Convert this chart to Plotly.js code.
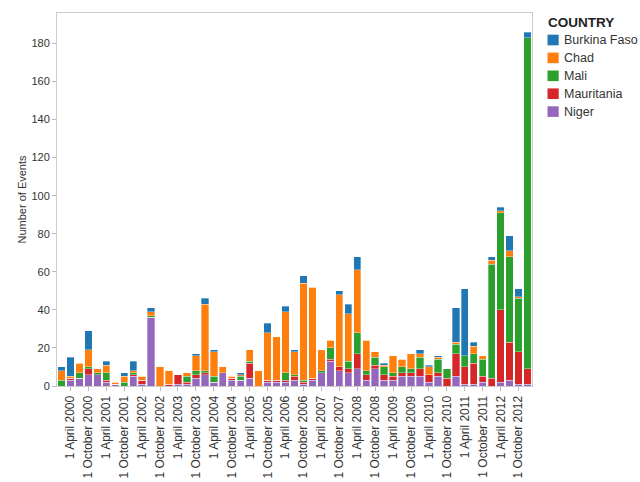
<!DOCTYPE html>
<html>
<head>
<meta charset="utf-8">
<script src="https://cdn.plot.ly/plotly-3.0.1.min.js"></script>
<style>
	html, body { margin: 0; padding: 0; background: #fff; }
</style>
</head>
<body>
<div id="plot"></div>
<script>
const MONTHS = ["January", "April", "July", "October"];

// one bar per quarter, January 2000 to January 2013
const quarters = [];
for (let year = 2000; year <= 2013; ++year) {
	MONTHS.forEach(m => {
		if (year < 2013 || m === "January") {
			quarters.push(`1 ${m} ${year}`);
		}
	});
}

// labels shown on the axis (April and October only)
const tickLabels = quarters.filter(q => /April|October/.test(q));

const niger = [
	0, 3, 4, 6, 6, 2, 1, 0, 5, 1, 36, 0, 0, 1, 1, 4, 6, 2, 7, 3, 3, 4, 0, 2, 2, 2,
	3, 1, 3, 7, 13, 8, 7, 9, 3, 9, 3, 3, 5, 5, 5, 2, 5, 0, 5, 1, 1, 2, 0, 2, 3, 1, 1,
];
const mauritania = [
	0, 1, 0, 3, 0, 1, 0, 0, 1, 2, 0, 0, 1, 5, 1, 2, 1, 0, 0, 1, 0, 8, 0, 1, 1, 1,
	2, 1, 1, 0, 1, 2, 2, 8, 3, 2, 3, 2, 2, 2, 4, 4, 2, 4, 12, 9, 11, 3, 4, 38, 20, 17, 8,
];
const mali = [
	3, 0, 3, 1, 1, 4, 0, 2, 1, 0, 1, 0, 0, 0, 3, 2, 1, 3, 0, 0, 2, 1, 0, 0, 0, 4,
	1, 1, 0, 1, 6, 0, 4, 11, 2, 4, 4, 2, 3, 2, 6, 0, 7, 5, 5, 6, 5, 9, 60, 51, 45, 28, 174,
];
const chad = [
	5, 1, 5, 9, 2, 4, 1, 3, 1, 2, 2, 10, 7, 0, 2, 8, 35, 13, 3, 1, 1, 6, 8, 25, 23, 32,
	12, 51, 48, 11, 4, 38, 25, 33, 16, 3, 1, 9, 4, 8, 2, 4, 1, 0, 1, 0, 4, 2, 2, 1, 3, 1, 0,
];
const burkinaFaso = [
	2, 10, 0, 10, 0, 2, 0, 2, 5, 0, 2, 0, 0, 0, 0, 1, 3, 1, 0, 0, 1, 0, 0, 5, 0, 3,
	1, 4, 0, 0, 0, 2, 5, 7, 0, 0, 1, 0, 0, 0, 2, 1, 1, 0, 18, 35, 2, 0, 2, 2, 8, 4, 3,
];

const yTicks = [0, 20, 40, 60, 80, 100, 120, 140, 160, 180];

// bottom of the stack first
const series = [
	{ name: "Niger", values: niger, color: "#9467bd" },
	{ name: "Mauritania", values: mauritania, color: "#d62728" },
	{ name: "Mali", values: mali, color: "#2ca02c" },
	{ name: "Chad", values: chad, color: "#ff7f0e" },
	{ name: "Burkina Faso", values: burkinaFaso, color: "#1f77b4" },
];

const W = 640;
const H = 482;
const margin = { l: 57, r: 108, t: 13, b: 96 };

// pixel -> paper coordinates, for the hand-placed legend
const px = x => (x - margin.l) / (W - margin.l - margin.r);
const py = y => (H - margin.b - y) / (H - margin.t - margin.b);

const data = series.map(s => ({
	type: "bar",
	name: s.name,
	x: quarters,
	y: s.values,
	marker: {
		color: s.color,
		line: { color: "rgba(255,255,255,0.55)", width: 0.6 },
	},
	showlegend: false,
	hoverinfo: "x+y+name",
}));

// legend: Tableau style, top of stack listed first
const shapes = [];
const annotations = [
	{
		text: "<b>COUNTRY</b>",
		xref: "paper",
		yref: "paper",
		x: px(546),
		y: py(22),
		xanchor: "left",
		yanchor: "middle",
		showarrow: false,
		font: { size: 13.5, color: "#222" },
	},
];
series
	.slice()
	.reverse()
	.forEach((s, i) => {
		const cy = 40 + i * 17.9;
		shapes.push({
			type: "rect",
			xref: "paper",
			yref: "paper",
			x0: px(547.5),
			x1: px(558.7),
			y0: py(cy - 5.3),
			y1: py(cy + 5.3),
			fillcolor: s.color,
			line: { width: 0 },
		});
		annotations.push({
			text: s.name,
			xref: "paper",
			yref: "paper",
			x: px(562),
			y: py(cy),
			xanchor: "left",
			yanchor: "middle",
			showarrow: false,
			font: { size: 12.5, color: "#333" },
		});
	});

const axisLine = {
	showline: true,
	linecolor: "#cccccc",
	linewidth: 1,
	mirror: true,
	showgrid: false,
	zeroline: false,
	ticks: "outside",
	ticklen: 4,
	tickcolor: "#bbbbbb",
};

const layout = {
	width: W,
	height: H,
	margin,
	paper_bgcolor: "#fff",
	plot_bgcolor: "#fff",
	barmode: "stack",
	bargap: 0.18,
	font: { family: "Liberation Sans, Arial, sans-serif", color: "#333" },
	showlegend: false,
	shapes,
	annotations,
	xaxis: {
		...axisLine,
		type: "category",
		tickmode: "array",
		tickvals: tickLabels,
		ticktext: tickLabels,
		tickangle: -90,
		tickfont: { size: 12, color: "#333" },
	},
	yaxis: {
		...axisLine,
		range: [0, 196],
		tickmode: "array",
		tickvals: yTicks,
		ticktext: yTicks.map(String),
		tickfont: { size: 11, color: "#333" },
		title: { text: "Number of Events", font: { size: 11, color: "#333" }, standoff: 2 },
	},
};

Plotly.newPlot("plot", data, layout, { displayModeBar: false, staticPlot: true });
</script>
</body>
</html>
